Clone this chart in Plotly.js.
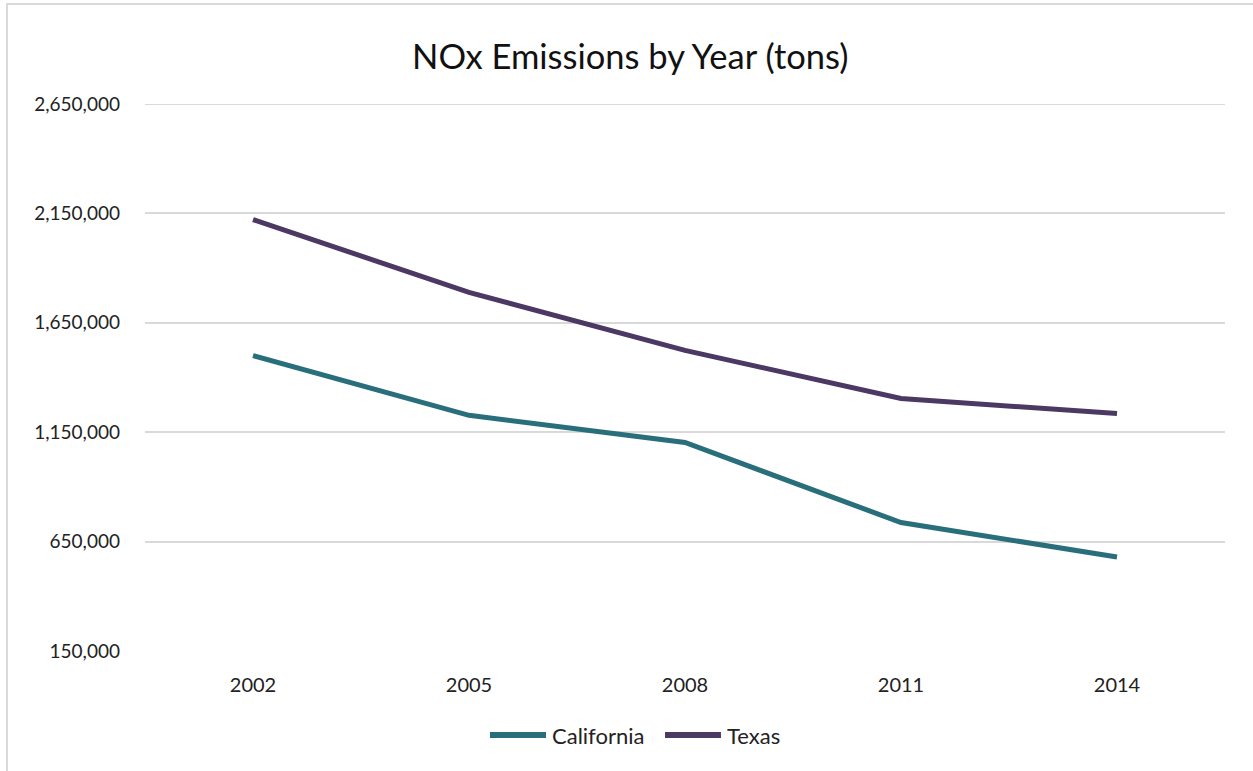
<!DOCTYPE html>
<html>
<head>
<meta charset="utf-8">
<script src="https://cdn.plot.ly/plotly-3.0.1.min.js"></script>
<style>
  html, body { margin: 0; padding: 0; background: #fff; overflow: hidden; width: 1253px; height: 771px; }
  #frame { position: absolute; left: 6px; top: 3px; width: 1300px; height: 800px;
           border-left: 2px solid #d9d9d9; border-top: 2px solid #d9d9d9; }
  #chart { position: absolute; left: 0; top: 0; width: 1253px; height: 800px; }
</style>
</head>
<body>
<div id="frame"></div>
<div id="chart"></div>
<script>
const years = ["2002", "2005", "2008", "2011", "2014"];
const california = [1500000, 1227000, 1103000, 737000, 580000];
const texas = [2122000, 1789000, 1524000, 1304000, 1235000];
const seriesNames = ["California", "Texas"];
const yTicks = [150000, 650000, 1150000, 1650000, 2150000, 2650000];

const colors = ["#296e7b", "#4b3963"];
const font = "Lato, 'Open Sans', sans-serif";

const traces = [
  { x: years, y: california, name: seriesNames[0], type: "scatter", mode: "lines",
    line: { color: colors[0], width: 5 } },
  { x: years, y: texas, name: seriesNames[1], type: "scatter", mode: "lines",
    line: { color: colors[1], width: 5 } }
];

// custom legend placed below the plot (paper coordinates)
const legendY = -84 / 547;
const legendItems = [
  { x0: 0.3194, x1: 0.3713, tx: 0.3750 },
  { x0: 0.4815, x1: 0.5333, tx: 0.5370 }
];
const legendShapes = legendItems.map((it, i) => ({
  type: "line", xref: "paper", yref: "paper", x0: it.x0, x1: it.x1, y0: legendY, y1: legendY,
  line: { color: colors[i], width: 6 }
}));
const legendAnnots = legendItems.map((it, i) => ({
  xref: "paper", yref: "paper", x: it.tx, y: legendY, xanchor: "left", yanchor: "middle",
  text: seriesNames[i], showarrow: false, font: { family: font, size: 22, color: "#222" }
}));

const layout = {
  width: 1253, height: 800,
  paper_bgcolor: "rgba(0,0,0,0)", plot_bgcolor: "rgba(0,0,0,0)",
  margin: { l: 145, r: 28, t: 104, b: 149 },
  font: { family: font, size: 20, color: "#222" },
  title: { text: "NOx Emissions by Year (tons)", x: 0.503, xanchor: "center",
           y: 1 - 57/800, yanchor: "middle", font: { family: font, size: 34.5, color: "#111" } },
  xaxis: { type: "category", range: [-0.5, 4.5], showgrid: false, zeroline: false,
           showline: false, ticks: "", ticklabelstandoff: 20, fixedrange: true,
           tickfont: { family: font, size: 20, color: "#222" } },
  yaxis: { range: [150000, 2650000], tickvals: yTicks,
           ticktext: yTicks.map(v => v.toLocaleString("en-US")),
           showgrid: true, gridcolor: "#d9d9d9", gridwidth: 2, zeroline: false,
           showline: false, ticks: "", ticklabelstandoff: 24, fixedrange: true,
           tickfont: { family: font, size: 19, color: "#222" } },
  shapes: [
    { type: "line", xref: "paper", yref: "y", x0: 0, x1: 1, y0: 2650000, y1: 2650000,
      line: { color: "#d9d9d9", width: 2 }, layer: "below" }
  ].concat(legendShapes),
  annotations: legendAnnots,
  showlegend: false
};

Plotly.newPlot("chart", traces, layout, { displayModeBar: false, staticPlot: true });
</script>
</body>
</html>
